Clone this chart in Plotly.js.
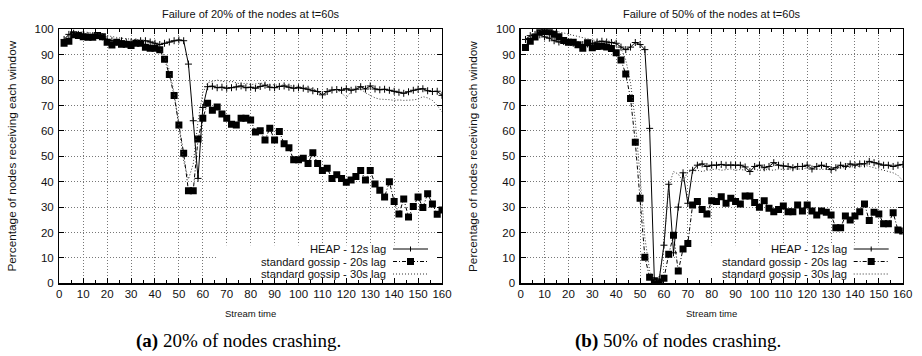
<!DOCTYPE html>
<html><head><meta charset="utf-8">
<script src="https://cdn.plot.ly/plotly-3.0.1.min.js"></script>
<style>html,body{margin:0;padding:0;background:#fff}#chart{width:922px;height:356px}</style>
</head><body><div id="chart"></div>
<script>
// Stream time (s)
const streamTime = [2,4,6,8,10,12,14,16,18,20,22,24,26,28,30,32,34,36,38,40,
  42,44,46,48,50,52,54,56,58,60,62,64,66,68,70,72,74,76,78,80,
  82,84,86,88,90,92,94,96,98,100,102,104,106,108,110,112,114,116,118,120,
  122,124,126,128,130,132,134,136,138,140,142,144,146,148,150,152,154,156,158,160];

// (a) 20% of nodes crashing
const heap20 = [96,98,98.5,98,98,97.5,97.5,97.5,97,96,
  95.5,95,95.5,95,95,95,95.5,95.5,95,94.5,
  94,94.5,95,95.5,95.8,95.5,86.3,64,41.3,69.2,
  77.4,77.6,77,77.2,76.8,77,77.3,77.7,77,77.2,
  76.8,77.5,78,77.2,77,77.5,77.7,77.2,76.8,77,
  76.8,76.4,75.8,75.5,74.2,75.5,76.1,76.3,76,76.6,
  76,76.4,77.4,76.5,77.7,76.5,76.2,76.4,76,75.6,
  75.2,74.8,75.4,76,76.4,76.6,75.8,75.5,75.6,74];
const gossip20s_20 = [94.5,95.3,97.9,97.6,97.1,96.9,96.9,97.6,97.1,94.9,
  93.8,94.9,94.1,94.1,93.6,94.5,94.5,92.9,92.5,92.5,
  91.9,88.2,82.2,73.9,62.3,51.2,36.4,36.4,56.8,65,
  70.9,68.1,69.4,66.7,65,62.6,62.3,65,65,64.3,
  59.6,60.1,56.4,61,56.4,59.8,54.9,53.4,48.6,48.6,
  49.2,47.2,51.4,47.2,44.4,45.3,41.3,42.7,41.3,39.8,
  40.7,42,44.4,40.7,44.4,39.1,36.6,34,40,32.2,
  27.3,33.2,26.1,30.2,34,29.8,35.3,31.2,27.2,28.9];
const gossip30s_20 = [96.5,97.5,98.5,99,99,98.8,98.5,98.3,98,97.5,
  97,96.8,96.5,96.3,96,96,95.8,95.5,95.5,95,
  93,89,84,75,62,48,41,47,64,75,
  79,79.5,80,79.6,79.2,79.5,79,78.4,78.8,78.2,
  78.5,78.8,78.6,78,78.2,77.8,78.2,78,77.8,77.6,
  77.2,77,76.5,76,74.5,75,76,76.2,75,73,
  75.5,77,76.5,75,74,73,72.5,72.5,72.3,72,
  72.2,72,72,72.2,72.5,73.5,73,72,70,67.5];

// (b) 50% of nodes crashing
const heap50 = [96,97.5,98,97.8,97,96.5,95.5,95,95.2,95,
  94.5,94,94,94.2,94.5,95,95.3,95,94.8,94.5,
  93,92,93,94.8,94,92,61,1,1.5,15,
  39,12,30,43.5,31.5,44.5,46.5,47,46,46.5,
  46.5,46.8,46.5,46.6,46.5,46.5,45.8,44,46,46.5,
  45.5,46,47.5,46.5,46.2,46,45.5,46,46,46.5,
  45,46,46.5,46,44.8,45.5,46.5,46,47,46.5,
  47,47,48,47.5,47,46.5,46.5,46,46.5,46.8];
const gossip20s_50 = [92.8,95.3,97,99,99.1,99,98.1,97.1,95.6,94.9,
  94.9,93.9,92.5,94.7,92.7,93.2,93.3,93,92.4,90.8,
  87.9,82.4,72.8,55.5,33.5,10.3,2.4,1,0.5,2,
  11.4,18.9,4.8,13.5,15.7,30.8,32.2,29.1,27.3,32.5,
  32.2,34.1,31.5,33.5,32.2,31.2,34.4,34.4,31.8,29.9,
  32.5,29.5,28.2,29.1,30.4,28.2,28.2,30.8,28.5,30.8,
  28.5,26.9,28.5,28,26.9,21.9,21.9,26.5,24.9,26.5,
  28.2,31.2,24.7,28,27.3,23.4,23.4,27.8,21,20.6];
const gossip30s_50 = [96,97.5,98.5,99.5,100,99.8,99.5,99,98.5,98,
  97.5,97,96.5,96,95.8,95.5,95.5,95.5,95.2,95,
  92.5,88,79,64,42,18,5,1,1.5,15,
  38,44,43,40,44,44,44.5,44,44.5,44.8,
  45,44.5,44.8,45,44.5,44.8,44.5,44.5,44.8,44.5,
  44.8,44.5,44.5,45,44.8,45,45,45.2,45,45.5,
  45.2,45,44.8,45,44.5,45,45.5,45.5,45.8,46,
  46,46.5,46,45.5,45,44.5,44,43.5,42.5,40.5];

const seriesNames = ['HEAP - 12s lag', 'standard gossip - 20s lag', 'standard gossip - 30s lag'];
const plotTitles = ['Failure of 20% of the nodes at t=60s', 'Failure of 50% of the nodes at t=60s'];
const captions = ['<b>(a)</b> 20% of nodes crashing.', '<b>(b)</b> 50% of nodes crashing.'];
const xTitle = 'Stream time';
const yTitle = 'Percentage of nodes receiving each window';

(function(){
const W = 922, H = 356;
const fx = p => p / W, fy = p => 1 - p / H;
const SANS = 'Liberation Sans, Arial, Helvetica, sans-serif';

const styles = [
  {mode:'lines+markers', line:{color:'#000', width:1}, marker:{symbol:'cross-thin', size:5, line:{color:'#000', width:1}}},
  {mode:'lines+markers', line:{color:'#000', width:1, dash:'4px,2px,1px,2px'}, marker:{symbol:'square', size:7, color:'#000'}},
  {mode:'lines', line:{color:'#333', width:1, dash:'1px,2px'}}
];

const panels = [
  {x:'x', y:'y', data:[heap20, gossip20s_20, gossip30s_20], left:59.3, right:442},
  {x:'x2', y:'y2', data:[heap50, gossip20s_50, gossip30s_50], left:520.7, right:902.7}
];
const pTop = 29.3, pBottom = 283.3;

const traces = [];
panels.forEach(p => {
  p.data.forEach((vals, i) => {
    traces.push(Object.assign({type:'scatter', x:streamTime, y:vals, xaxis:p.x, yaxis:p.y, name:seriesNames[i], showlegend:false, hoverinfo:'skip'}, JSON.parse(JSON.stringify(styles[i]))));
  });
});

function xaxis(dom, anchor){
  return {domain:dom, anchor:anchor, range:[0,160], tick0:0, dtick:10, ticks:'inside', ticklen:5, tickwidth:1, tickcolor:'#000',
    mirror:'ticks', showline:true, linecolor:'#000', linewidth:1.3, showgrid:true, gridcolor:'#777', griddash:'1px,2px', gridwidth:1,
    zeroline:false, tickfont:{family:SANS, size:11.5, color:'#111'}, automargin:false, fixedrange:true,
    minor:{dtick:5, tick0:0, ticks:'inside', ticklen:3, tickcolor:'#000', showgrid:false}};
}
function yaxis(dom, anchor){
  return {domain:dom, anchor:anchor, range:[0,100], tick0:0, dtick:10, ticks:'inside', ticklen:5, tickwidth:1, tickcolor:'#000',
    mirror:'ticks', showline:true, linecolor:'#000', linewidth:1.3, showgrid:true, gridcolor:'#777', griddash:'1px,2px', gridwidth:1,
    zeroline:false, tickfont:{family:SANS, size:11.5, color:'#111'}, automargin:false, fixedrange:true, ticklabelstandoff:2};
}

const annotations = [], shapes = [];
const legendRows = [249, 261.5, 274];
panels.forEach((p, k) => {
  const cx = (p.left + p.right) / 2;
  annotations.push({xref:'paper', yref:'paper', x:fx(cx), y:fy(14), text:plotTitles[k], showarrow:false, xanchor:'center', yanchor:'middle', font:{family:SANS, size:11, color:'#111'}});
  annotations.push({xref:'paper', yref:'paper', x:fx(cx), y:fy(313), text:xTitle, showarrow:false, xanchor:'center', yanchor:'middle', font:{family:SANS, size:9.5, color:'#111'}});
  annotations.push({xref:'paper', yref:'paper', x:fx(p.left - 47), y:fy((pTop + pBottom) / 2), text:yTitle, textangle:-90, showarrow:false, xanchor:'center', yanchor:'middle', font:{family:SANS, size:11.8, color:'#111'}});
  annotations.push({xref:'paper', yref:'paper', x:fx(k === 0 ? 238 : 678), y:fy(341), text:captions[k], showarrow:false, xanchor:'center', yanchor:'middle', font:{family:'Liberation Serif, Times New Roman, serif', size:19, color:'#000'}});
  shapes.push({type:'rect', xref:p.x, yref:p.y, x0:65.5, x1:159.5, y0:0.5, y1:15, fillcolor:'#fff', line:{width:0}, layer:'between'});
  const tr = p.right - 54, l0 = p.right - 49, l1 = p.right - 14, lm = (l0 + l1) / 2;
  seriesNames.forEach((nm, i) => {
    const yy = legendRows[i];
    annotations.push({xref:'paper', yref:'paper', x:fx(tr), y:fy(yy), text:nm, showarrow:false, xanchor:'right', yanchor:'middle', font:{family:SANS, size:11.2, color:'#111'}});
    shapes.push({type:'line', xref:'paper', yref:'paper', x0:fx(l0), x1:fx(l1), y0:fy(yy), y1:fy(yy), line:{color:styles[i].line.color, width:1, dash:styles[i].line.dash || 'solid'}});
    if (i === 0) {
      shapes.push({type:'line', xref:'paper', yref:'paper', x0:fx(lm), x1:fx(lm), y0:fy(yy - 2.5), y1:fy(yy + 2.5), line:{color:'#000', width:1}});
    } else if (i === 1) {
      shapes.push({type:'rect', xref:'paper', yref:'paper', x0:fx(lm - 3.5), x1:fx(lm + 3.5), y0:fy(yy - 3.5), y1:fy(yy + 3.5), fillcolor:'#000', line:{width:0}});
    }
  });
});

const layout = {
  width:W, height:H, margin:{l:0, r:0, t:0, b:0}, paper_bgcolor:'#fff', plot_bgcolor:'#fff', showlegend:false,
  xaxis: xaxis([fx(59.3), fx(442)], 'y'),
  yaxis: yaxis([fy(283.3), fy(29.3)], 'x'),
  xaxis2: xaxis([fx(520.7), fx(902.7)], 'y2'),
  yaxis2: yaxis([fy(283.3), fy(29.3)], 'x2'),
  annotations: annotations, shapes: shapes
};
Plotly.newPlot('chart', traces, layout, {staticPlot:true, displayModeBar:false});
})();
</script></body></html>
